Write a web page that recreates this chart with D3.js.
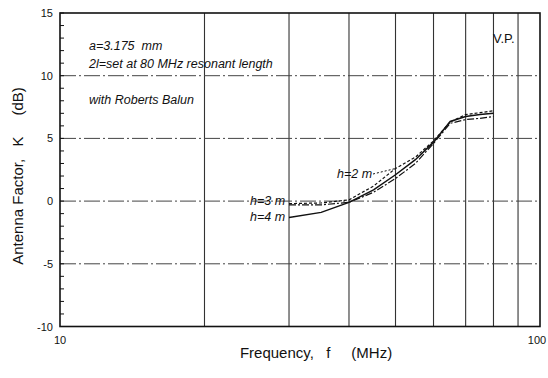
<!DOCTYPE html>
<html>
<head>
<meta charset="utf-8">
<script src="https://cdn.jsdelivr.net/npm/d3@7"></script>
<style>
  html, body { margin: 0; padding: 0; background: #fff; }
  svg { display: block; font-family: Arial, "Liberation Sans", Helvetica, sans-serif; }
</style>
</head>
<body>
<svg id="chart" width="548" height="378"></svg>
<script>
// Antenna factor of a dipole vs frequency for three heights above ground
const freqs = [30, 35, 40, 45, 50, 55, 60, 65, 70, 75, 80];
const h2 = [-0.2, -0.15, 0.1, 1.2, 2.6, 3.5, 4.8, 6.3, 6.9, 7.05, 7.2];
const h3 = [-0.3, -0.3, -0.1, 0.7, 1.8, 3.0, 4.6, 6.2, 6.5, 6.6, 6.75];
const h4 = [-1.3, -0.9, -0.1, 0.9, 2.1, 3.3, 4.7, 6.35, 6.75, 6.9, 7.0];
const yTicks = [-10, -5, 0, 5, 10, 15];
const xTickLabels = [10, 100];
const xGrid = [20, 30, 40, 50, 60, 70, 80, 90];
const yMinor = d3.range(-10, 16, 1);

const margin = { left: 60, right: 8, top: 13, bottom: 52 };
const W = 548, H = 378;
const svg = d3.select("#chart");

const x = d3.scaleLog().domain([10, 100]).range([margin.left, W - margin.right]);
const y = d3.scaleLinear().domain([-10, 15]).range([H - margin.bottom + 0.5, margin.top]);

// grid
const grid = svg.append("g");
grid.selectAll("line.v").data(xGrid).join("line")
  .attr("x1", d => x(d)).attr("x2", d => x(d))
  .attr("y1", y(-10)).attr("y2", y(15))
  .attr("stroke", "#333").attr("stroke-width", 1.1);
grid.selectAll("line.h").data(yTicks.filter(d => d > -10 && d < 15)).join("line")
  .attr("x1", x(10)).attr("x2", x(100))
  .attr("y1", d => y(d)).attr("y2", d => y(d))
  .attr("stroke", "#444").attr("stroke-width", 1)
  .attr("stroke-dasharray", "16,3,2,3");

// frame
svg.append("rect")
  .attr("x", x(10)).attr("y", y(15))
  .attr("width", x(100) - x(10)).attr("height", y(-10) - y(15))
  .attr("fill", "none").attr("stroke", "#111").attr("stroke-width", 1.6);

// left axis: labels and inward minor ticks
svg.selectAll("line.minor").data(yMinor).join("line")
  .attr("x1", x(10)).attr("x2", x(10) + 4)
  .attr("y1", d => y(d)).attr("y2", d => y(d))
  .attr("stroke", "#111");
svg.selectAll("text.yt").data(yTicks).join("text")
  .attr("x", x(10) - 7).attr("y", d => y(d) + 4)
  .attr("text-anchor", "end").attr("font-size", 11).attr("fill", "#111")
  .text(d => d);
svg.selectAll("text.xt").data(xTickLabels).join("text")
  .attr("x", d => x(d) - (d === 100 ? 3 : 0)).attr("y", y(-10) + 17)
  .attr("text-anchor", "middle").attr("font-size", 11).attr("fill", "#111")
  .text(d => d);

// axis titles
svg.append("text")
  .attr("x", 316).attr("y", 358)
  .attr("text-anchor", "middle").attr("font-size", 15).attr("fill", "#111")
  .attr("xml:space", "preserve")
  .text("Frequency,   f     (MHz)");
svg.append("text")
  .attr("transform", "translate(23,176) rotate(-90)")
  .attr("text-anchor", "middle").attr("font-size", 15).attr("fill", "#111")
  .attr("xml:space", "preserve")
  .text("Antenna Factor,   K     (dB)");

// curves
const line = d3.line().x(d => x(d[0])).y(d => y(d[1]));
const series = [
  { name: "h=2 m", vals: h2, dash: "3,2", width: 1.2 },
  { name: "h=3 m", vals: h3, dash: "7,2,2,2", width: 1.2 },
  { name: "h=4 m", vals: h4, dash: null, width: 1.5 }
];
series.forEach(s => {
  svg.append("path")
    .datum(freqs.map((f, i) => [f, s.vals[i]]))
    .attr("d", line)
    .attr("fill", "none").attr("stroke", "#111")
    .attr("stroke-width", s.width)
    .attr("stroke-dasharray", s.dash);
});

// curve labels
const lab = svg.append("g").attr("font-size", 12.5).attr("font-style", "italic").attr("fill", "#111");
lab.append("text").attr("x", 337).attr("y", 178).text("h=2 m");
lab.append("text").attr("x", 250).attr("y", 205).text("h=3 m");
lab.append("text").attr("x", 250).attr("y", 221).text("h=4 m");
svg.append("line")
  .attr("x1", 373).attr("y1", 174).attr("x2", x(50)).attr("y2", y(h2[4]))
  .attr("stroke", "#111").attr("stroke-dasharray", "2,2");

// notes
const notes = svg.append("g").attr("font-size", 12.5).attr("font-style", "italic").attr("fill", "#111");
notes.append("text").attr("x", 89).attr("y", 50).attr("xml:space", "preserve").text("a=3.175  mm");
notes.append("text").attr("x", 89).attr("y", 68).text("2l=set at 80 MHz resonant length");
notes.append("text").attr("x", 89).attr("y", 104).text("with Roberts Balun");
svg.append("text").attr("x", 493).attr("y", 43).attr("font-size", 13).attr("fill", "#111").text("V.P.");
</script>
</body>
</html>
